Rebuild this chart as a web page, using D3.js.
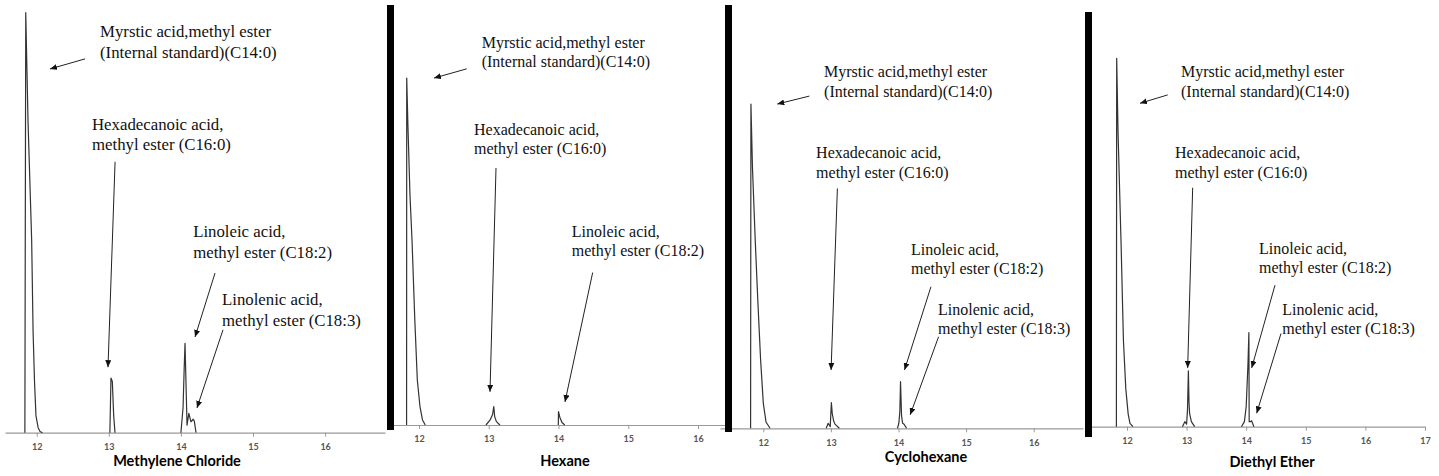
<!DOCTYPE html>
<html><head><meta charset="utf-8">
<script src="https://cdn.jsdelivr.net/npm/d3@7"></script>
<style>html,body{margin:0;padding:0;background:#fff;} svg{display:block}</style>
</head><body><svg id="c" width="1439" height="476"></svg>
<script>
// ---------------- data ----------------
const solvents = ["Methylene Chloride", "Hexane", "Cyclohexane", "Diethyl Ether"];
const tickLabels = [[12,13,14,15,16],[12,13,14,15,16],[12,13,14,15,16],[12,13,14,15,16,17]];

const labelC14 = ["Myrstic acid,methyl ester", "(Internal standard)(C14:0)"];
const labelC16 = ["Hexadecanoic acid,", "methyl ester (C16:0)"];
const labelC182 = ["Linoleic acid,", "methyl ester (C18:2)"];
const labelC183 = ["Linolenic acid,", "methyl ester (C18:3)"];

// retention time (min) and relative signal; null = gap between peaks
const mcTime   = [11.836,11.848,11.88,11.93,11.95,11.97,11.99,12.02,12.046,12.08, null,
                  13.015,13.03,13.049,13.068,13.086, null,
                  14.0,14.03,14.045,14.057,14.085,14.11,14.14,14.17,14.185,14.21];
const mcSignal = [0,1.0,0.74,0.46,0.24,0.12,0.04,0.012,0.003,0, null,
                  0,0.13,0.122,0.04,0, null,
                  0,0.06,0.15,0.213,0.018,0.046,0.026,0.032,0.028,0];

const hxTime   = [11.822,11.824,11.84,11.87,11.9,11.94,11.976,12.014,12.05,12.09, null,
                  12.96,13.02,13.055,13.072,13.085,13.11,13.16, null,
                  13.997,14.0,14.02,14.05,14.09];
const hxSignal = [0,0.826,0.72,0.55,0.44,0.25,0.107,0.044,0.012,0, null,
                  0,0.012,0.025,0.044,0.02,0.008,0, null,
                  0,0.032,0.018,0.006,0];

const chTime   = [11.812,11.817,11.84,11.88,11.92,11.96,12.0,12.04,12.1, null,
                  12.93,12.96,12.99,13.007,13.02,13.04,13.06,13.125, null,
                  13.985,14.005,14.02,14.03,14.045,14.06,14.08,14.12];
const chSignal = [0,0.772,0.62,0.45,0.30,0.163,0.06,0.015,0, null,
                  0,0.012,0.004,0.061,0.035,0.018,0.01,0, null,
                  0,0.012,0.04,0.111,0.03,0.012,0.01,0];

const deTime   = [11.822,11.827,11.85,11.9,11.94,11.98,12.02,12.05,12.1, null,
                  12.93,12.97,13.0,13.015,13.03,13.04,13.05,13.08,13.135, null,
                  13.92,13.97,14.0,14.03,14.045,14.05,14.07,14.09,14.13];
const deSignal = [0,0.877,0.70,0.44,0.206,0.09,0.03,0.008,0, null,
                  0,0.012,0.006,0.04,0.133,0.06,0.032,0.012,0, null,
                  0,0.012,0.048,0.15,0.224,0.012,0.012,0.014,0];

const traces = [[mcTime,mcSignal],[hxTime,hxSignal],[chTime,chSignal],[deTime,deSignal]];

// ---------------- layout ----------------
const layout = [
  {x0:5,    x1:385,  x12:36.7,  unit:72.1,  base:432.7, fs:16.8, lh:20.6, title:[177,466], bar:null},
  {x0:387,  x1:725,  x12:419,   unit:69.75, base:425,   fs:16,   lh:19.2, title:[565,466], bar:[387,5,430]},
  {x0:720,  x1:1083, x12:763.3, unit:67.6,  base:428.3, fs:16,   lh:19.4, title:[926,462], bar:[725,5,432]},
  {x0:1085, x1:1425, x12:1127,  unit:59.6,  base:426.7, fs:16,   lh:19.4, title:[1272,467], bar:[1085,12,437]}
];
// annotation anchors in data units: text [t,h], arrow from [t,h] to [t,h]
const notes = [
  [[labelC14,[12.878,0.942],[12.67,0.890],[12.184,0.866]],
   [labelC16,[12.767,0.721],[13.087,0.645],[12.989,0.156]],
   [labelC182,[14.17,0.466],[14.473,0.380],[14.196,0.228]],
   [labelC183,[14.57,0.304],[14.584,0.245],[14.223,0.059]]],
  [[labelC14,[12.899,0.898],[12.684,0.848],[12.215,0.826]],
   [labelC16,[12.789,0.69],[13.104,0.612],[13.018,0.079]],
   [labelC182,[14.19,0.448],[14.49,0.363],[14.093,0.055]]],
  [[labelC14,[12.899,0.836],[12.681,0.791],[12.207,0.772]],
   [labelC16,[12.781,0.643],[13.096,0.571],[13.003,0.139]],
   [labelC182,[14.184,0.413],[14.48,0.337],[14.089,0.139]],
   [labelC183,[14.584,0.27],[14.593,0.218],[14.173,0.032]]],
  [[labelC14,[12.906,0.832],[12.683,0.79],[12.218,0.77]],
   [labelC16,[12.805,0.639],[13.102,0.569],[13.018,0.14]],
   [labelC182,[14.215,0.411],[14.483,0.337],[14.092,0.14]],
   [labelC183,[14.606,0.266],[14.584,0.222],[14.176,0.032]]]
];

const svg = d3.select("#c");
svg.append("defs").append("marker")
  .attr("id","ah").attr("markerUnits","userSpaceOnUse")
  .attr("markerWidth",8).attr("markerHeight",6)
  .attr("refX",7).attr("refY",3).attr("orient","auto")
  .append("path").attr("d","M0,0 L7,3 L0,6 Z").attr("fill","#111");

layout.forEach((L, i) => {
  const g = svg.append("g");
  const tStart = 12 - (L.x12 - L.x0) / L.unit;
  const tEnd = 12 + (L.x1 - L.x12) / L.unit;
  const x = d3.scaleLinear().domain([tStart, tEnd]).range([L.x0, L.x1]);
  const y = d3.scaleLinear().domain([0, 1]).range([L.base, L.base - 420]);

  // axis
  const ax = g.append("g").attr("transform", `translate(0,${L.base})`)
    .call(d3.axisBottom(x).tickValues(tickLabels[i]).tickFormat(d3.format("d"))
      .tickSizeInner(4).tickSizeOuter(0).tickPadding(7));
  ax.select(".domain").attr("stroke", "#9a9a9a").attr("stroke-width", 1.2);
  ax.selectAll(".tick line").attr("stroke", "#9a9a9a");
  ax.selectAll(".tick text").attr("font-family", "Lato, 'Open Sans', sans-serif")
    .attr("font-size", 9).attr("font-weight", 700).attr("fill", "#555");

  // trace
  const [tArr, sArr] = traces[i];
  const pts = tArr.map((t, k) => ({t, s: sArr[k]}));
  const line = d3.line().defined(d => d.s !== null).x(d => x(d.t)).y(d => y(d.s));
  g.append("path").datum(pts).attr("d", line)
    .attr("fill", "none").attr("stroke", "#333").attr("stroke-width", 1.2)
    .attr("stroke-linejoin", "round");

  // thick separator bar
  if (L.bar) {
    g.append("rect").attr("x", L.bar[0]).attr("y", L.bar[1])
      .attr("width", 7).attr("height", L.bar[2] - L.bar[1]).attr("fill", "#000");
  }

  // annotations
  notes[i].forEach(([lines, tp, from, to]) => {
    const tx = g.append("text").attr("x", x(tp[0])).attr("y", y(tp[1]))
      .attr("font-family", "'Liberation Serif', 'Times New Roman', serif")
      .attr("font-size", L.fs).attr("fill", "#111");
    lines.forEach((ln, k) => tx.append("tspan").attr("x", x(tp[0]))
      .attr("dy", k === 0 ? 0 : L.lh).text(ln));
    g.append("line").attr("x1", x(from[0])).attr("y1", y(from[1]))
      .attr("x2", x(to[0])).attr("y2", y(to[1]))
      .attr("stroke", "#222").attr("stroke-width", 1).attr("marker-end", "url(#ah)");
  });

  // title
  g.append("text").attr("x", L.title[0]).attr("y", L.title[1])
    .attr("text-anchor", "middle")
    .attr("font-family", "Lato, 'Open Sans', sans-serif")
    .attr("font-weight", 700).attr("font-size", 14.5).attr("fill", "#000")
    .text(solvents[i]);
});
</script></body></html>
